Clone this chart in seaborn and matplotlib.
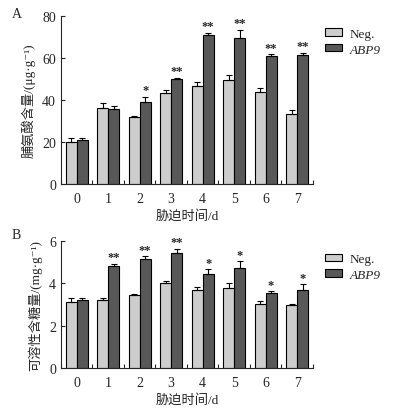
import numpy as np
import pandas as pd
import seaborn as sns
import matplotlib.pyplot as plt
from matplotlib.container import BarContainer

sns.set_style('ticks')
plt.rcParams['font.family'] = ['Liberation Serif', 'Noto Sans CJK SC', 'DejaVu Serif']

days = ['0', '1', '2', '3', '4', '5', '6', '7']
groups = ['Neg.', 'ABP9']

# Panel A: proline content
pro_neg = [20.1, 36.0, 31.7, 43.1, 46.5, 49.4, 43.7, 33.5]
pro_neg_err = [1.6, 2.4, 0.8, 1.6, 2.2, 2.3, 1.8, 1.5]
pro_abp = [20.8, 35.7, 39.1, 49.8, 71.0, 69.4, 60.8, 61.4]
pro_abp_err = [0.9, 1.5, 2.4, 0.8, 1.0, 3.9, 0.8, 1.1]
pro_sig = ['', '', '*', '**', '**', '**', '**', '**']

# Panel B: soluble sugar content
sug_neg = [3.13, 3.21, 3.46, 4.00, 3.67, 3.76, 3.01, 2.96]
sug_neg_err = [0.16, 0.11, 0.05, 0.10, 0.17, 0.24, 0.16, 0.08]
sug_abp = [3.20, 4.80, 5.16, 5.41, 4.44, 4.73, 3.56, 3.68]
sug_abp_err = [0.11, 0.12, 0.11, 0.23, 0.22, 0.32, 0.06, 0.29]
sug_sig = ['', '**', '**', '**', '*', '*', '*', '*']

colors = ['#cdcdcd', '#585858']


def panel(ax, neg, neg_err, abp, abp_err, sig, ymax, step, ylabel):
    df = pd.DataFrame({
        'day': days * 2,
        'val': neg + abp,
        'group': [groups[0]] * len(days) + [groups[1]] * len(days),
    })
    sns.barplot(data=df, x='day', y='val', hue='group', palette=colors,
                edgecolor='black', linewidth=0.8, width=0.7, errorbar=None,
                ax=ax)
    errs = [neg_err, abp_err]
    bar_conts = [c for c in ax.containers if isinstance(c, BarContainer)]
    for k, cont in enumerate(bar_conts):
        xs = [b.get_x() + b.get_width() / 2 for b in cont]
        hs = [b.get_height() for b in cont]
        ax.errorbar(xs, hs, yerr=[np.zeros(len(hs)), errs[k]], fmt='none',
                    ecolor='black', elinewidth=0.8, capsize=2.5, capthick=0.8)
        if k == 1:
            for x, h, e, s in zip(xs, hs, errs[k], sig):
                if s:
                    ax.text(x, h + e + ymax * 0.003, s, ha='center', va='bottom',
                            fontsize=9, fontweight='bold')
    ax.set_xlim(-0.5, 7.5)
    ax.set_ylim(0, ymax)
    ax.set_yticks(np.arange(0, ymax + step / 2, step))
    ax.set_xticks(np.arange(-0.5, 8, 1), minor=True)
    ax.tick_params(axis='x', which='major', length=0, labelsize=10, pad=6)
    ax.tick_params(axis='x', which='minor', direction='in', length=3, width=0.8)
    ax.tick_params(axis='y', direction='in', length=3, width=0.8, labelsize=10)
    sns.despine(ax=ax)
    for sp in ['left', 'bottom']:
        ax.spines[sp].set_linewidth(0.8)
    ax.set_xlabel('胁迫时间/d', fontsize=9.5, labelpad=3)
    ax.set_ylabel(ylabel, fontsize=9.5, labelpad=5)
    lg = ax.legend(loc='upper left', bbox_to_anchor=(1.0, 1.0), frameon=False,
                   fontsize=9.5, handlelength=1.3, handleheight=0.45,
                   handletextpad=0.6, labelspacing=0.3)
    for t in lg.get_texts():
        if t.get_text() == 'ABP9':
            t.set_fontstyle('italic')
    for h in lg.legend_handles:
        h.set_edgecolor('black')
        h.set_linewidth(0.8)


fig = plt.figure(figsize=(3.98, 4.10), dpi=100)
ax1 = fig.add_axes([0.153, 0.549, 0.633, 0.41])
ax2 = fig.add_axes([0.153, 0.10, 0.633, 0.31])

panel(ax1, pro_neg, pro_neg_err, pro_abp, pro_abp_err, pro_sig, 80, 20,
      '脯氨酸含量/(μg·g⁻¹)')
panel(ax2, sug_neg, sug_neg_err, sug_abp, sug_abp_err, sug_sig, 6, 2,
      '可溶性含糖量/(mg·g⁻¹)')

fig.text(0.03, 1 - 15 / 410, 'A', fontsize=10, ha='left', va='center')
fig.text(0.03, 1 - 236 / 410, 'B', fontsize=10, ha='left', va='center')

fig.savefig('out.png', dpi=100)
